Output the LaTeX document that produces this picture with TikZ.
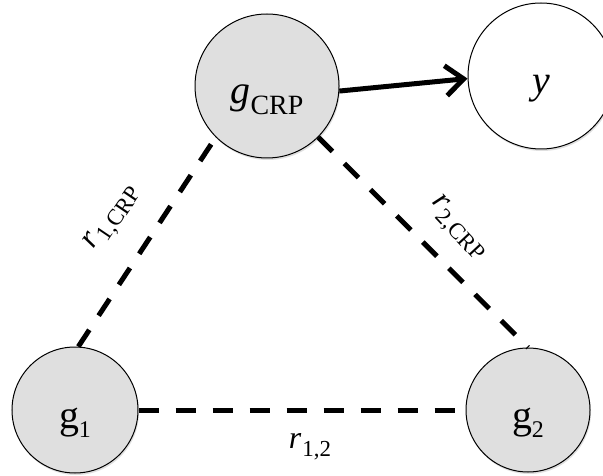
\documentclass[tikz,border=0pt]{standalone}
\usepackage{fontspec}
\setmainfont{Liberation Serif}
\usetikzlibrary{arrows.meta,shadows}
\newcommand{\bigtxt}[1]{{\fontsize{40}{42}\selectfont #1}}
\newcommand{\subtxt}[3]{{\fontsize{#1}{#1}\selectfont\raisebox{-#2}{#3}}}
\newcommand{\lowered}[1]{\raisebox{-18bp}[0pt][0pt]{#1}}
\begin{document}
\begin{tikzpicture}[x=1bp,y=-1bp,
  vnode/.style={circle,draw=black,line width=1bp,inner sep=0pt,
    drop shadow={shadow xshift=1bp,shadow yshift=-2bp,opacity=0.25}},
  grey/.style={vnode,fill=gray!25},
  white/.style={vnode,fill=white},
  link/.style={line width=5bp,dash pattern=on 20bp off 17bp},
  arr/.style={line width=5bp,-{Straight Barb[length=18bp,width=30bp]}},
  lbl/.style={inner sep=0pt}
]
\useasboundingbox[fill=white] (0,0) rectangle (603,476);
\node[grey,minimum size=144bp] (gcrp) at (267,86) {\lowered{\bigtxt{\textit{g}}\subtxt{28}{11bp}{CRP}}};
\node[white,minimum size=146bp] (y) at (541,76) {\lowered{\bigtxt{\textit{y}}}};
\node[grey,minimum size=126bp] (g1) at (75,410) {\lowered{\bigtxt{g}\subtxt{24}{9bp}{1}}};
\node[grey,minimum size=124bp] (g2) at (528,410) {\lowered{\bigtxt{g}\subtxt{24}{9bp}{2}}};
\draw[link] (g1.87) -- (gcrp.225);
\draw[link] (gcrp.-45) -- (g2.90);
\draw[link] (g1.east) -- (g2.west);
\draw[arr] (gcrp.-4) -- (y.182);
\node[lbl,rotate=56] (l1) at (113,218) {{\fontsize{32}{32}\selectfont\textit{r}\kern1bp}\subtxt{23}{8bp}{1,CRP}};
\node[lbl,rotate=-47] (l2) at (458,228) {{\fontsize{32}{32}\selectfont\textit{r}\kern1bp}\subtxt{23}{8bp}{2,CRP}};
\node[lbl] (l3) at (310,447) {{\fontsize{32}{32}\selectfont\textit{r}\kern1bp}\subtxt{23}{8bp}{1,2}};
\end{tikzpicture}
\end{document}
